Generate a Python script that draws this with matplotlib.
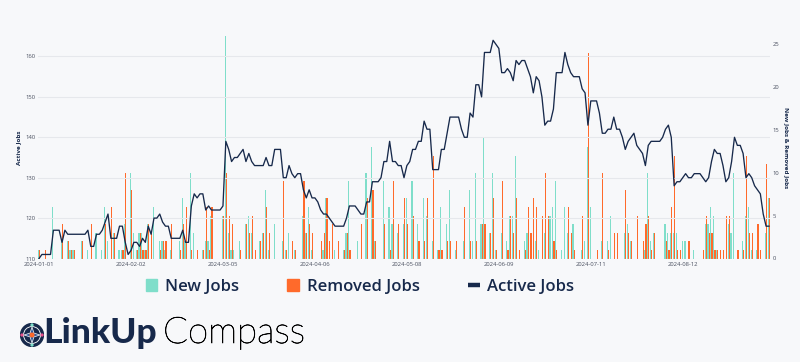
import numpy as np
import pandas as pd
import matplotlib
matplotlib.use("Agg")
import matplotlib.pyplot as plt
import matplotlib.dates as mdates
import matplotlib.patheffects as pe
from matplotlib.patches import Patch, Circle, Polygon
from matplotlib.lines import Line2D

# daily series, 2024-01-01 .. 2024-09-11
dates = pd.date_range("2024-01-01", periods=255, freq="D")

active_jobs = [
    110, 111, 111, 111, 111, 117, 117, 117, 114, 117, 116, 116, 116, 116, 116,
    116, 116, 117, 113, 113, 116, 116, 117, 119, 121, 115, 115, 115, 118, 118,
    114, 111, 112, 114, 114, 113, 115, 114, 118, 116, 120, 120, 121, 119, 118,
    118, 115, 115, 115, 115, 117, 114, 114, 123, 126, 125, 126, 126, 122, 123,
    122, 122, 122, 122, 123, 139, 137, 134, 135, 135, 136, 137, 134, 136, 134,
    133, 133, 133, 133, 135, 133, 133, 137, 137, 137, 130, 130, 133, 131, 130,
    131, 131, 127, 125, 127, 125, 125, 124, 122, 121, 121, 120, 119, 118, 118,
    118, 118, 120, 123, 123, 123, 122, 121, 121, 124, 124, 129, 129, 129, 130,
    134, 134, 139, 134, 134, 133, 133, 130, 133, 134, 137, 137, 139, 139, 144,
    142, 142, 132, 132, 132, 137, 137, 141, 145, 145, 145, 145, 142, 140, 140,
    146, 145, 153, 153, 150, 161, 161, 161, 164, 163, 162, 156, 156, 157, 156,
    154, 159, 158, 159, 159, 157, 155, 151, 155, 154, 150, 143, 144, 144, 147,
    156, 156, 156, 161, 158, 156, 155, 155, 155, 152, 151, 143, 149, 149, 149,
    146, 141, 141, 142, 142, 145, 142, 142, 140, 137, 139, 140, 141, 138, 137,
    136, 133, 138, 139, 139, 139, 139, 140, 142, 143, 140, 128, 129, 129, 130,
    131, 130, 130, 131, 131, 131, 130, 129, 130, 134, 137, 136, 136, 133, 129,
    130, 134, 140, 138, 138, 136, 130, 131, 130, 128, 127, 126, 121, 118, 118,
]

new_jobs = [
    1, 0, 0, 0, 0, 6, 0, 0, 2, 0, 2, 1, 1, 0, 0,
    2, 0, 1, 0, 0, 3, 0, 1, 6, 2, 0, 3, 0, 1, 1,
    4, 0, 10, 3, 1, 3, 3, 1, 4, 0, 6, 0, 2, 2, 1,
    0, 1, 0, 0, 2, 7, 2, 0, 10, 3, 0, 0, 1, 2, 2,
    5, 0, 0, 0, 5, 26, 3, 1, 1, 0, 2, 0, 4, 5, 3,
    0, 0, 2, 3, 8, 1, 0, 4, 0, 0, 2, 1, 3, 0, 1,
    0, 0, 5, 3, 6, 1, 0, 0, 0, 1, 7, 0, 0, 1, 0,
    0, 1, 3, 9, 0, 0, 2, 0, 0, 10, 0, 13, 2, 0, 0,
    9, 0, 6, 4, 0, 3, 0, 4, 7, 0, 9, 0, 4, 0, 7,
    5, 0, 2, 0, 1, 6, 0, 4, 8, 0, 1, 0, 0, 2, 0,
    8, 2, 10, 0, 4, 14, 0, 3, 10, 1, 0, 3, 0, 2, 5,
    5, 12, 0, 0, 2, 3, 0, 0, 2, 1, 0, 3, 0, 5, 6,
    9, 0, 1, 6, 3, 0, 4, 0, 0, 1, 2, 13, 6, 0, 0,
    0, 2, 0, 2, 5, 0, 0, 0, 0, 3, 4, 2, 0, 0, 0,
    0, 1, 10, 2, 3, 0, 0, 0, 4, 3, 3, 3, 3, 0, 2,
    2, 0, 0, 1, 0, 0, 0, 4, 4, 6, 5, 1, 0, 0, 0,
    4, 3, 10, 0, 0, 2, 5, 6, 1, 0, 1, 0, 0, 3, 7,
]

removed_jobs = [
    1, 0, 1, 0, 0, 0, 0, 0, 4, 0, 2, 1, 1, 0, 0,
    2, 0, 0, 4, 0, 0, 0, 0, 4, 0, 6, 3, 0, 0, 1,
    10, 0, 8, 0, 1, 3, 1, 1, 4, 3, 0, 0, 1, 2, 2,
    0, 4, 0, 0, 1, 4, 6, 0, 1, 0, 1, 0, 1, 6, 1,
    6, 0, 0, 0, 5, 10, 5, 4, 0, 0, 1, 0, 4, 3, 5,
    1, 0, 2, 3, 6, 3, 0, 0, 0, 0, 9, 1, 0, 2, 1,
    0, 0, 9, 3, 4, 3, 0, 0, 2, 3, 7, 2, 4, 0, 2,
    0, 1, 3, 1, 0, 0, 0, 4, 0, 7, 0, 8, 2, 0, 0,
    4, 0, 1, 9, 0, 4, 0, 7, 4, 0, 5, 0, 2, 0, 2,
    7, 0, 12, 0, 1, 1, 0, 2, 2, 0, 2, 0, 0, 6, 0,
    2, 0, 2, 0, 4, 4, 0, 3, 7, 1, 0, 9, 0, 1, 5,
    3, 7, 1, 0, 1, 6, 3, 7, 6, 0, 5, 10, 5, 0, 2,
    1, 0, 0, 0, 6, 3, 1, 0, 0, 5, 0, 24, 0, 0, 1,
    0, 10, 0, 1, 0, 3, 3, 0, 0, 8, 3, 2, 0, 5, 0,
    2, 4, 5, 1, 3, 0, 0, 0, 2, 1, 6, 12, 1, 1, 0,
    0, 2, 0, 0, 0, 0, 1, 5, 3, 3, 1, 1, 1, 1, 5,
    5, 0, 0, 1, 0, 1, 12, 3, 3, 0, 4, 1, 0, 11, 7,
]

x_ticks = ["2024-01-01", "2024-02-02", "2024-03-05", "2024-04-06",
           "2024-05-08", "2024-06-09", "2024-07-11", "2024-08-12"]
left_ticks = [110, 120, 130, 140, 150, 160]
right_ticks = [0, 5, 10, 15, 20, 25]

TEAL = "#7fdeca"
ORANGE = "#ff6a2b"
NAVY = "#17294b"
BG = "#f7f8fa"
GRID = "#e6e8ec"
TICK = "#4a5060"

plt.rcParams["font.family"] = ["Open Sans", "DejaVu Sans"]

W, H = 800, 362
fig = plt.figure(figsize=(W / 100, H / 100), dpi=100, facecolor=BG)

px_l, px_r, px_t, px_b = 37.6, 770.4, 36.0, 258.5
ax = fig.add_axes([px_l / W, 1 - px_b / H, (px_r - px_l) / W, (px_b - px_t) / H])
ax.set_facecolor(BG)

# bars on the base axes (right scale), line on the twin (left scale)
xnum = mdates.date2num(dates)
ax.bar(xnum - 0.2, new_jobs, width=0.4, color=TEAL, linewidth=0)
ax.bar(xnum + 0.2, removed_jobs, width=0.4, color=ORANGE, linewidth=0)
ax.set_ylim(0, 25.93)
ax.set_xlim(xnum[0] - 0.5, xnum[-1] + 0.5)

ax2 = ax.twinx()
ax2.plot(xnum, active_jobs, color=NAVY, lw=0.95)
ax2.set_ylim(110, 165.07)

ax.yaxis.tick_right()
ax.set_yticks(right_ticks)
ax.tick_params(axis="y", which="both", left=False, labelleft=False,
               right=True, labelright=True, length=0, pad=1.5,
               labelsize=4.2, labelcolor=TICK)
ax2.yaxis.tick_left()
ax2.set_yticks(left_ticks)
ax2.tick_params(axis="y", which="both", right=False, labelright=False,
                left=True, labelleft=True, length=0, pad=1.5,
                labelsize=4.2, labelcolor=TICK)
ax2.grid(axis="y", color=GRID, lw=0.8)

ax.set_xticks(mdates.date2num(pd.to_datetime(x_ticks)))
ax.set_xticklabels(x_ticks)
ax.tick_params(axis="x", length=0, pad=2.5, labelsize=4.2, labelcolor=TICK)

for a in (ax, ax2):
    for s in a.spines.values():
        s.set_visible(False)

fig.text(19 / W, 1 - 147.5 / H, "Active Jobs", rotation=90, ha="center", va="center",
         fontsize=4.6, fontweight="bold", color=NAVY)
fig.text(786 / W, 1 - 147.5 / H, "New Jobs & Removed Jobs", rotation=270, ha="center",
         va="center", fontsize=4.6, fontweight="bold", color=NAVY)

handles = [Patch(color=TEAL), Patch(color=ORANGE),
           Line2D([0], [0], color=NAVY, lw=3.2, solid_capstyle="butt")]
fig.legend(handles, ["New Jobs", "Removed Jobs", "Active Jobs"], ncol=3,
           loc="center", bbox_to_anchor=(360 / W, 1 - 286.7 / H), frameon=False,
           prop={"size": 12, "weight": "semibold"}, labelcolor=NAVY,
           handlelength=0.7, handleheight=0.7, handletextpad=0.45, columnspacing=2.9)

# logo
icon = fig.add_axes([20 / W, 1 - 347 / H, 24 / W, 24 / H])
icon.set_xlim(-1.05, 1.05)
icon.set_ylim(-1.05, 1.05)
icon.set_aspect("equal")
icon.axis("off")
icon.add_patch(Circle((0, 0), 1.0, color=NAVY))
icon.add_patch(Circle((0, 0), 0.74, fill=False, ec="white", lw=0.6))
star = [(0, 0.7), (0.17, 0.17), (0.7, 0), (0.17, -0.17), (0, -0.7),
        (-0.17, -0.17), (-0.7, 0), (-0.17, 0.17)]
icon.add_patch(Polygon(star, closed=True, fc="#2f5c9e", ec="white", lw=0.5))
icon.add_patch(Circle((0, 0), 0.16, color=ORANGE))
for (dx, dy), c in zip([(0, 0.88), (0.88, 0), (0, -0.88), (-0.88, 0)],
                       ["#7fdeca", "#e8528b", "#7fdeca", "#e8528b"]):
    icon.add_patch(Circle((dx, dy), 0.08, color=c))

t1 = fig.text(43 / W, 1 - 343 / H, "LinkUp", fontsize=20, fontweight="black",
              color=NAVY, family=["Lato", "DejaVu Sans"], va="baseline")
t2 = fig.text(163 / W, 1 - 343 / H, "Compass", fontsize=20, fontweight="light",
              color="#000000", family=["Lato", "DejaVu Sans"], va="baseline")
# light face a touch heavier, like the wordmark
t2.set_path_effects([pe.Stroke(linewidth=0.45, foreground="#000000"), pe.Normal()])


def fit(t, width_px):
    fig.canvas.draw()
    w = t.get_window_extent().width
    t.set_fontsize(t.get_fontsize() * width_px / w)


fit(t1, 114)
fit(t2, 142)

fig.savefig("out.png", dpi=100, facecolor=BG)
